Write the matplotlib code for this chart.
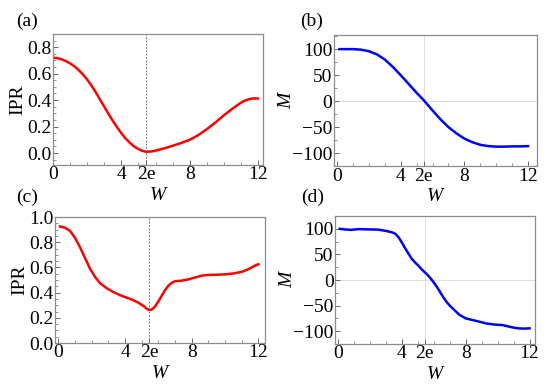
import numpy as np
import matplotlib
matplotlib.use("Agg")
import matplotlib.pyplot as plt
from matplotlib.ticker import FixedLocator, MultipleLocator

E2 = 2 * np.e

# (a) IPR vs W
w_a = [0, 0.25, 0.5, 0.75, 1.0, 1.25, 1.5, 1.75, 2.0, 2.25, 2.5, 2.75, 3.0, 3.25, 3.5,
       3.75, 4.0, 4.25, 4.5, 4.75, 5.0, 5.25, 5.44, 5.75, 6.0, 6.5, 7.0, 7.5, 8.0,
       8.5, 9.0, 9.5, 10.0, 10.5, 11.0, 11.25, 11.5, 11.75, 12.0]
ipr_a = [0.72, 0.717, 0.708, 0.695, 0.677, 0.655, 0.627, 0.594, 0.555, 0.51, 0.46, 0.405,
         0.35, 0.295, 0.243, 0.195, 0.15, 0.11, 0.077, 0.05, 0.03, 0.016, 0.01, 0.012,
         0.018, 0.035, 0.055, 0.076, 0.1, 0.135, 0.18, 0.23, 0.285, 0.335, 0.38,
         0.397, 0.408, 0.413, 0.412]

# (b) M vs W
w_b = [0.15, 0.5, 1.0, 1.5, 2.0, 2.5, 3.0, 3.5, 4.0, 4.5, 5.0, 5.44, 6.0, 6.5, 7.0,
       7.5, 8.0, 8.5, 9.0, 9.5, 10.0, 10.5, 11.0, 11.5, 12.0]
m_b = [100, 100, 100, 99, 96, 90, 80, 66, 50, 33, 16, 2, -18, -35, -50,
       -62, -72, -79, -84, -86.5, -87.5, -87.5, -87, -87, -86.5]

# (c) IPR vs W
w_c = [0.1, 0.4, 0.7, 1.0, 1.3, 1.6, 1.9, 2.2, 2.5, 2.9, 3.3, 3.7, 4.1, 4.5, 4.8,
       5.1, 5.3, 5.45, 5.6, 5.8, 6.0, 6.2, 6.4, 6.6, 6.8, 7.0, 7.4, 7.8, 8.2, 8.6,
       9.0, 9.5, 10.0, 10.5, 11.0, 11.3, 11.6, 11.8, 12.0]
ipr_c = [0.925, 0.915, 0.89, 0.835, 0.76, 0.675, 0.59, 0.525, 0.475, 0.435, 0.405, 0.38,
         0.36, 0.34, 0.32, 0.295, 0.272, 0.262, 0.265, 0.29, 0.33, 0.375, 0.42, 0.455,
         0.478, 0.49, 0.495, 0.505, 0.52, 0.535, 0.54, 0.542, 0.545, 0.552, 0.565,
         0.58, 0.6, 0.615, 0.625]

# (d) M vs W
w_d = [0.1, 0.4, 0.8, 1.3, 1.8, 2.5, 3.0, 3.4, 3.6, 3.8, 4.0, 4.2, 4.4, 4.6, 4.8,
       5.0, 5.2, 5.4, 5.6, 5.8, 6.0, 6.2, 6.4, 6.6, 6.8, 7.0, 7.3, 7.6, 8.0, 8.4,
       8.8, 9.3, 9.8, 10.3, 10.7, 11.0, 11.3, 11.6, 12.0]
m_d = [100, 99, 98, 99.5, 99, 98.5, 96, 93, 90, 83, 73, 62, 52, 42, 35,
       29, 22, 16, 10, 3, -5, -14, -24, -34, -43, -50, -59, -68, -75, -78,
       -81, -85, -87, -88, -91, -93, -94.5, -95, -94.5]

xtick_pos = [0, 4, E2, 8, 12]
xtick_lab = ["0", "4", "2e", "8", "12"]

plt.rcParams["font.family"] = ["Liberation Serif", "DejaVu Serif"]

fig = plt.figure(figsize=(5.5, 3.9), dpi=100)
axa = fig.add_axes([0.0964, 0.577, 0.382, 0.336])
axb = fig.add_axes([0.607, 0.574, 0.369, 0.336])
axc = fig.add_axes([0.100, 0.1205, 0.382, 0.323])
axd = fig.add_axes([0.609, 0.118, 0.364, 0.328])

FS = 14
spine_col = "#8c8c8c"

def style(ax):
    for s in ax.spines.values():
        s.set_color(spine_col)
        s.set_linewidth(0.9)
    ax.xaxis.set_major_locator(FixedLocator(xtick_pos))
    ax.set_xticklabels(xtick_lab)
    ax.xaxis.set_minor_locator(FixedLocator([1, 2, 3, 5, 6, 7, 9, 10, 11]))
    ax.tick_params(which="both", direction="in", top=False, right=False,
                   colors="#666666", labelcolor="black", labelsize=FS, pad=1)
    ax.tick_params(which="major", length=3.5, width=0.7)
    ax.tick_params(which="minor", length=2, width=0.5)
    ax.set_xlabel("W", fontsize=FS, style="italic", labelpad=2.5)

# (a)
axa.plot(w_a, ipr_a, color="#ff0000", lw=1.8)
axa.axvline(E2, color="#555555", lw=0.6, ls=(0, (2, 2)), zorder=0)
axa.set_xlim(0, 12.3)
axa.set_ylim(-0.09, 0.9)
axa.set_yticks([0.0, 0.2, 0.4, 0.6, 0.8])
axa.set_yticklabels(["0.0", "0.2", "0.4", "0.6", "0.8"])
axa.yaxis.set_minor_locator(MultipleLocator(0.05))
style(axa)
axa.set_ylabel("IPR", fontsize=FS, labelpad=1)

# (b)
axb.plot(w_b, m_b, color="#0000ff", lw=1.8)
axb.axvline(E2, color="#dddddd", lw=0.7, zorder=0)
axb.axhline(0, color="#dddddd", lw=0.7, zorder=0)
axb.set_xlim(-0.2, 12.55)
axb.set_ylim(-125, 127)
axb.set_yticks([-100, -50, 0, 50, 100])
axb.set_yticklabels(["\u2212100", "\u221250", "0", "50", "100"])
axb.yaxis.set_minor_locator(MultipleLocator(25))
style(axb)
axb.set_ylabel("M", fontsize=FS, style="italic", labelpad=-2)

# (c)
axc.plot(w_c, ipr_c, color="#ff0000", lw=1.8)
axc.axvline(E2, color="#555555", lw=0.6, ls=(0, (2, 2)), zorder=0)
axc.set_xlim(-0.2, 12.4)
axc.set_ylim(0, 1.0)
axc.set_yticks([0.0, 0.2, 0.4, 0.6, 0.8, 1.0])
axc.set_yticklabels(["0.0", "0.2", "0.4", "0.6", "0.8", "1.0"])
axc.yaxis.set_minor_locator(MultipleLocator(0.05))
style(axc)
axc.set_ylabel("IPR", fontsize=FS, labelpad=1)

# (d)
axd.plot(w_d, m_d, color="#0000ff", lw=1.8)
axd.axvline(E2, color="#dddddd", lw=0.7, zorder=0)
axd.axhline(0, color="#dddddd", lw=0.7, zorder=0)
axd.set_xlim(-0.2, 12.35)
axd.set_ylim(-125, 125)
axd.set_yticks([-100, -50, 0, 50, 100])
axd.set_yticklabels(["\u2212100", "\u221250", "0", "50", "100"])
axd.yaxis.set_minor_locator(MultipleLocator(25))
style(axd)
axd.set_ylabel("M", fontsize=FS, style="italic", labelpad=-2)

fig.text(0.049, 0.944, "(a)", fontsize=FS, ha="center", va="center")
fig.text(0.567, 0.944, "(b)", fontsize=FS, ha="center", va="center")
fig.text(0.049, 0.494, "(c)", fontsize=FS, ha="center", va="center")
fig.text(0.569, 0.494, "(d)", fontsize=FS, ha="center", va="center")

fig.savefig("out.png", dpi=100)
